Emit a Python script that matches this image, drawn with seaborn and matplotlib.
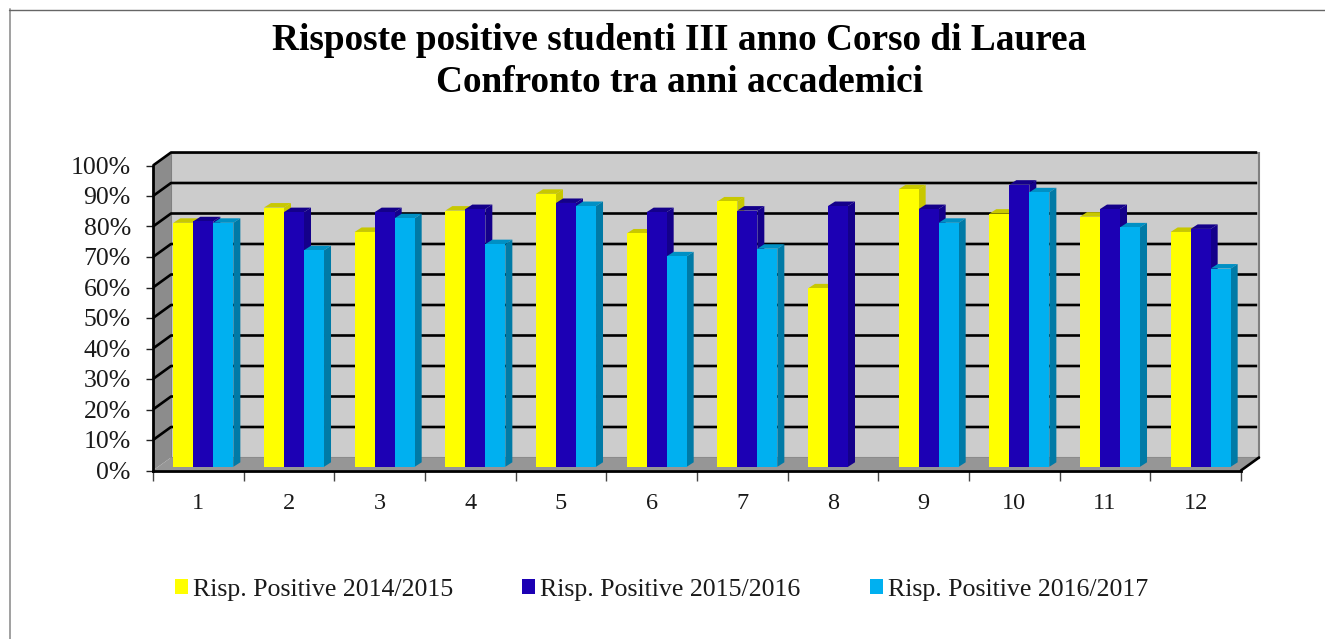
import numpy as np
import pandas as pd
import matplotlib
matplotlib.use('Agg')
import matplotlib.pyplot as plt
from matplotlib.patches import Polygon, Patch
import seaborn as sns

questions = [str(i) for i in range(1, 13)]
series_names = ['Risp. Positive 2014/2015', 'Risp. Positive 2015/2016', 'Risp. Positive 2016/2017']
values_1415 = [80, 85, 77, 84, 89.5, 76.5, 87, 58.5, 91, 83, 82, 77]
values_1516 = [80.5, 83.5, 83.5, 84.5, 86.5, 83.5, 84, 85.5, 84.5, 92.5, 84.5, 78]
values_1617 = [80, 71, 81.5, 73, 85.5, 69, 71.5, np.nan, 80, 90, 78.5, 65]
tick_pct = list(range(0, 101, 10))

face_colors = ['#FFFF00', '#1C00B4', '#00B0F0']
top_colors = ['#C8C800', '#14008A', '#0090C4']
side_colors = ['#C8C800', '#14008A', '#007AA6']

sns.set_theme(style='white')
plt.rcParams['font.family'] = ['Liberation Serif', 'DejaVu Serif']

W, H = 1325, 639
fig = plt.figure(figsize=(W / 100, H / 100), dpi=100)
# axes sits on the front plane of the fake 3D box
left, right, bottom, top = 153, 1241, 470.5, 165.5
ax = fig.add_axes([left / W, 1 - bottom / H, (right - left) / W, (bottom - top) / H])

df = pd.DataFrame({
    'question': questions * 3,
    'serie': np.repeat(series_names, 12),
    'value': values_1415 + values_1516 + values_1617,
})
sns.barplot(data=df, x='question', y='value', hue='serie', palette=face_colors,
            saturation=1, width=0.662, gap=0, legend=False, ax=ax, zorder=5)
ax.set_xlim(-0.5, 11.5)
ax.set_ylim(0, 100)

px_x = (right - left) / 12
px_y = (bottom - top) / 100

# box depth and bar depth, in data units
box_dx, box_dy = 18 / px_x, 13 / px_y
bar_dx, bar_dy = 7 / px_x, 4.5 / px_y
shift_x, shift_y = 5 / px_x, 3.7 / px_y

# walls and floor
x0, x1 = ax.get_xlim()
ax.add_patch(Polygon([(x0 + box_dx, box_dy), (x1 + box_dx, box_dy), (x1 + box_dx, 100 + box_dy), (x0 + box_dx, 100 + box_dy)],
                     fc='#CCCCCC', ec='#808080', lw=1.5, clip_on=False, zorder=1))
ax.add_patch(Polygon([(x0, 0), (x0 + box_dx, box_dy), (x0 + box_dx, 100 + box_dy), (x0, 100)],
                     fc='#8C8C8C', ec='none', clip_on=False, zorder=1))
ax.add_patch(Polygon([(x0, 0), (x1, 0), (x1 + box_dx, box_dy), (x0 + box_dx, box_dy)],
                     fc='#969696', ec='none', clip_on=False, zorder=1.5))
for t in tick_pct[1:]:
    ax.plot([x0, x0 + box_dx, x1 + box_dx - 0.02], [t, t + box_dy, t + box_dy], color='black', lw=1.9,
            clip_on=False, zorder=2, solid_capstyle='butt')
ax.plot([x1, x1 + box_dx], [0, box_dy], color='black', lw=1.9, clip_on=False, zorder=2)

# extrude the seaborn bars
for i, cont in enumerate(ax.containers):
    for bar in cont:
        h = bar.get_height()
        if np.isnan(h):
            continue
        bx = bar.get_x() + shift_x
        bw = bar.get_width()
        bar.set_x(bx)
        bar.set_y(shift_y)
        bar.set_zorder(5 + i + 0.5)
        bar.set_edgecolor('none')
        yt = shift_y + h
        ax.add_patch(Polygon([(bx, yt), (bx + bw, yt), (bx + bw + bar_dx, yt + bar_dy), (bx + bar_dx, yt + bar_dy)],
                             fc=top_colors[i], ec='none', zorder=5 + i, clip_on=False))
        ax.add_patch(Polygon([(bx + bw, shift_y), (bx + bw + bar_dx, shift_y + bar_dy), (bx + bw + bar_dx, yt + bar_dy), (bx + bw, yt)],
                             fc=side_colors[i], ec='none', zorder=5 + i, clip_on=False))

for s in ['top', 'right']:
    ax.spines[s].set_visible(False)
for s in ['left', 'bottom']:
    ax.spines[s].set_color('black')
    ax.spines[s].set_linewidth(2)
    ax.spines[s].set_zorder(20)

ax.set_xlabel('')
ax.set_ylabel('')
ax.set_yticks(tick_pct)
ax.set_yticklabels([f'{t}%' for t in tick_pct], fontsize=18.5, color='#1a1a1a')
ax.set_xticks(np.arange(-0.5, 12), labels=[''] * 13)
ax.set_xticks(range(12), labels=questions, minor=True, fontsize=17.5, color='#1a1a1a')
ax.tick_params(axis='y', length=5, width=1, color='#222222', left=True, pad=11)
ax.tick_params(axis='x', which='major', length=7, width=1, color='#444444', bottom=True)
ax.tick_params(axis='x', which='minor', length=0, pad=16)

fig.text(679 / W, 1 - 40 / H, 'Risposte positive studenti III anno Corso di Laurea', ha='center', va='center',
         fontsize=26.8, fontweight='bold', color='black')
fig.text(680 / W, 1 - 83 / H, 'Confronto tra anni accademici', ha='center', va='center',
         fontsize=26.8, fontweight='bold', color='black')

handles = [Patch(fc=c, ec='none', label=n) for c, n in zip(face_colors, series_names)]
fig.legend(handles=handles, loc='center', bbox_to_anchor=(661.5 / W, 1 - 590 / H), ncol=3, frameon=False,
           fontsize=18.6, handlelength=0.5, handleheight=0.5, handletextpad=0.2, columnspacing=2.67,
           labelcolor='#1a1a1a')

# outer frame of the slide
fig.add_artist(plt.Line2D([9.5 / W, 9.5 / W], [0, 1 - 9 / H], color='#A0A0A0', lw=1.4))
fig.add_artist(plt.Line2D([9 / W, 1], [1 - 9.5 / H, 1 - 9.5 / H], color='#666666', lw=1))

fig.savefig('out.png', dpi=100)
